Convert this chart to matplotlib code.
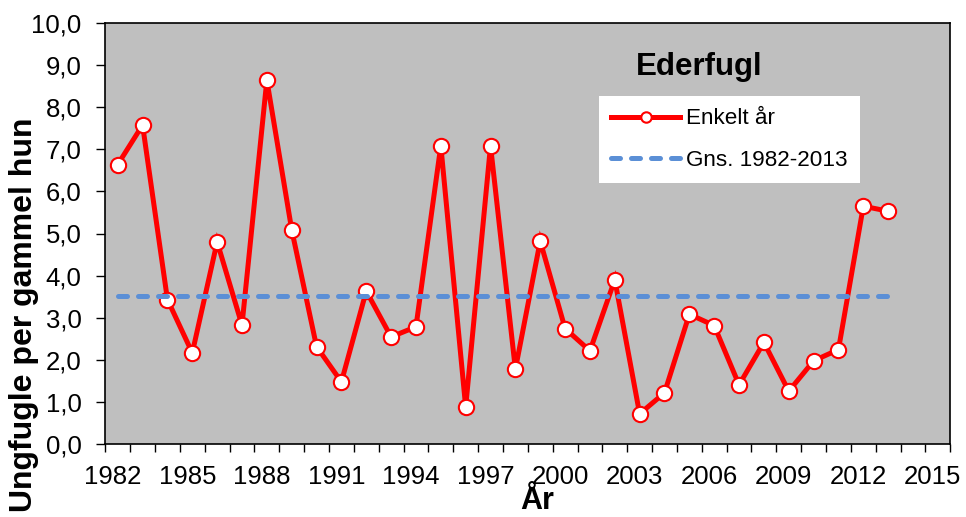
import numpy as np
import matplotlib
matplotlib.use("Agg")
import matplotlib.pyplot as plt

plt.rcParams['font.family'] = ['Liberation Sans', 'DejaVu Sans']

# data
years = list(range(1982, 2014))
young_per_female = [6.64, 7.58, 3.43, 2.16, 4.80, 2.82, 8.65, 5.09, 2.31, 1.47,
                    3.63, 2.54, 2.78, 7.09, 0.87, 7.09, 1.77, 4.82, 2.74, 2.21,
                    3.90, 0.71, 1.21, 3.08, 2.81, 1.40, 2.41, 1.25, 1.97, 2.24,
                    5.65, 5.53]
mean_1982_2013 = 3.51
xtick_years = list(range(1982, 2016, 3))
ytick_vals = [0, 1, 2, 3, 4, 5, 6, 7, 8, 9, 10]
ytick_labels = ["0,0", "1,0", "2,0", "3,0", "4,0", "5,0", "6,0", "7,0", "8,0", "9,0", "10,0"]

W, H = 966, 517
fig = plt.figure(figsize=(W / 100, H / 100), dpi=100)
ax = fig.add_axes([105.3 / W, 1 - 443.7 / H, (950.3 - 105.3) / W, (443.7 - 23.3) / H])
ax.set_facecolor('#bfbfbf')

ax.plot(years, young_per_female, color='#ff0000', lw=3.6, marker='o', ms=11,
        mfc='white', mec='#ff0000', mew=1.5, solid_joinstyle='miter',
        label='Enkelt år', zorder=3)
ax.plot([years[0], years[-1]], [mean_1982_2013] * 2, color='#5b8fd6', lw=3.6,
        linestyle=(0, (1.8, 2.2)), dash_capstyle='round',
        label='Gns. 1982-2013', zorder=4)

ax.set_xlim(1981.5, 2015.5)
ax.set_ylim(0, 10)

# category style x axis: marks between years, labels every third year
ax.set_xticks(np.arange(1981.5, 2016, 1.0))
ax.tick_params(axis='x', which='major', direction='out', length=6, width=1,
               labelbottom=False)
ax.set_xticks([y - 0.2 for y in xtick_years], minor=True)
ax.set_xticklabels([str(y) for y in xtick_years], minor=True)
ax.tick_params(axis='x', which='minor', length=0, pad=15, labelsize=18.5)

ax.set_yticks(ytick_vals)
ax.set_yticklabels(ytick_labels)
ax.tick_params(axis='y', direction='out', length=6.5, width=1, pad=10.5, labelsize=18.5)

for s in ax.spines.values():
    s.set_linewidth(1.2)
    s.set_color('black')

fig.text(24.5 / W, 1 - 315 / H, 'Ungfugle per gammel hun', rotation=90,
         ha='center', va='center', fontsize=23, fontweight='bold')
fig.text(537 / W, 1 - 516 / H, 'År', ha='center', va='bottom',
         fontsize=22, fontweight='bold')
fig.text(699 / W, 1 - 67 / H, 'Ederfugl', ha='center', va='center',
         fontsize=22.5, fontweight='bold')

leg = ax.legend(loc='upper left', bbox_to_anchor=(599 / W, 1 - 96 / H),
                bbox_transform=fig.transFigure, borderaxespad=0, fontsize=16.2,
                frameon=True, fancybox=False, framealpha=1, edgecolor='white',
                handlelength=3.05, handletextpad=0.25, borderpad=0.55,
                labelspacing=0.9)
leg.get_frame().set_linewidth(0)
leg.legend_handles[0].set_markersize(7.5)

fig.savefig('out.png', dpi=100)
